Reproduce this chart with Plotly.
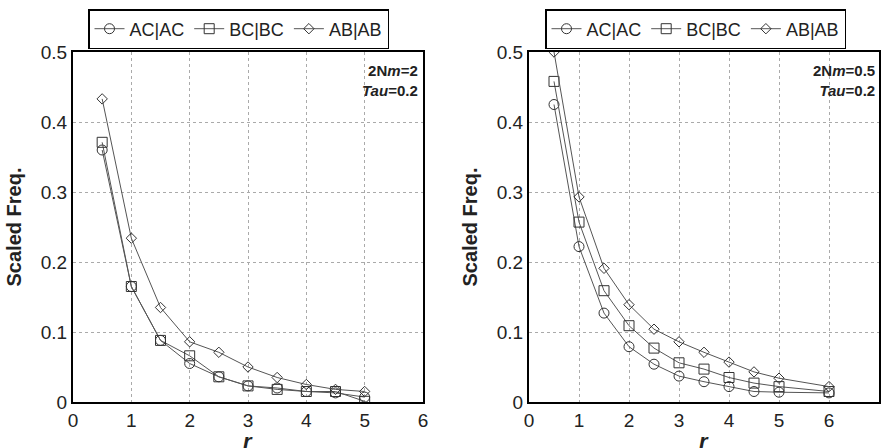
import plotly.graph_objects as go

r_left = [0.5, 1, 1.5, 2, 2.5, 3, 3.5, 4, 4.5, 5]
ac_left = [0.360, 0.165, 0.088, 0.055, 0.036, 0.023, 0.020, 0.015, 0.013, 0.007]
bc_left = [0.371, 0.165, 0.088, 0.066, 0.036, 0.023, 0.018, 0.015, 0.015, 0.001]
ab_left = [0.433, 0.234, 0.135, 0.086, 0.071, 0.050, 0.035, 0.025, 0.018, 0.015]

r_right = [0.5, 1, 1.5, 2, 2.5, 3, 3.5, 4, 4.5, 5, 6]
ac_right = [0.425, 0.222, 0.127, 0.079, 0.054, 0.037, 0.029, 0.022, 0.015, 0.014, 0.013]
bc_right = [0.458, 0.257, 0.159, 0.109, 0.077, 0.056, 0.047, 0.035, 0.027, 0.022, 0.015]
ab_right = [0.500, 0.293, 0.191, 0.139, 0.104, 0.086, 0.071, 0.057, 0.043, 0.034, 0.022]

series_names = ["AC|AC", "BC|BC", "AB|AB"]
symbols = ["circle-open", "square-open", "diamond-open"]
sizes = [10, 10, 8]

fig = go.Figure()
LC = "#555555"
for i, (name, ys) in enumerate(zip(series_names, [ac_left, bc_left, ab_left])):
    fig.add_trace(go.Scatter(x=r_left, y=ys, name=name, mode="lines+markers",
                             line=dict(color=LC, width=1),
                             marker=dict(symbol=symbols[i], size=sizes[i], color="#333",
                                         line=dict(width=1, color="#333")),
                             xaxis="x", yaxis="y", legend="legend"))
for i, (name, ys) in enumerate(zip(series_names, [ac_right, bc_right, ab_right])):
    fig.add_trace(go.Scatter(x=r_right, y=ys, name=name, mode="lines+markers",
                             line=dict(color=LC, width=1),
                             marker=dict(symbol=symbols[i], size=sizes[i], color="#333",
                                         line=dict(width=1, color="#333")),
                             xaxis="x2", yaxis="y2", legend="legend2"))

W, H = 881, 448
yd = [1 - 402 / H, 1 - 52 / H]
axis_common = dict(showline=True, linecolor="black", linewidth=2, mirror=True,
                   showgrid=True, gridcolor="#aaaaaa", griddash="dot", gridwidth=1,
                   zeroline=False, ticks="", automargin=False,
                   tickfont=dict(family="Arial", size=19, color="#222"))
ytitle = dict(text="<b>Scaled Freq.</b>", font=dict(family="Arial", size=20, color="#222"), standoff=14)
legfont = dict(family="Arial", size=18, color="#222")
xt_font = dict(family="Arial", size=22, color="#222")

fig.update_layout(
    width=W, height=H, margin=dict(l=0, r=0, t=0, b=0, autoexpand=False),
    plot_bgcolor="white", paper_bgcolor="white",
    xaxis=dict(domain=[73 / W, 423 / W], range=[0, 6], dtick=1, anchor="y", **axis_common),
    yaxis=dict(domain=yd, range=[0, 0.5], dtick=0.1, anchor="x", title=ytitle, **axis_common),
    xaxis2=dict(domain=[529 / W, 879 / W], range=[0, 7], dtick=1, anchor="y2", **axis_common),
    yaxis2=dict(domain=yd, range=[0, 0.5], dtick=0.1, anchor="x2", title=ytitle, **axis_common),
    legend=dict(orientation="h", x=88 / W, y=1 - 9 / H, xanchor="left", yanchor="top",
                bordercolor="black", borderwidth=1.5, font=legfont,
                itemwidth=30, tracegroupgap=0),
    legend2=dict(orientation="h", x=545 / W, y=1 - 9 / H, xanchor="left", yanchor="top",
                 bordercolor="black", borderwidth=1.5, font=legfont,
                 itemwidth=30, tracegroupgap=0),
    annotations=[
        dict(text="<b>2N<i>m</i>=2</b><br><b><i>Tau</i>=0.2</b>", xref="x", yref="y", x=5.95, y=0.488,
             xanchor="right", yanchor="top", showarrow=False, align="right",
             font=dict(family="Arial", size=15, color="#222")),
        dict(text="<b>2N<i>m</i>=0.5</b><br><b><i>Tau</i>=0.2</b>", xref="x2", yref="y2", x=6.95, y=0.488,
             xanchor="right", yanchor="top", showarrow=False, align="right",
             font=dict(family="Arial", size=15, color="#222")),
        dict(text="<b><i>r</i></b>", xref="x domain", yref="paper", x=0.5, y=1 - 427 / H,
             xanchor="center", yanchor="top", showarrow=False, font=xt_font),
        dict(text="<b><i>r</i></b>", xref="x2 domain", yref="paper", x=0.5, y=1 - 427 / H,
             xanchor="center", yanchor="top", showarrow=False, font=xt_font),
    ],
)

fig.write_html("out.html", config={"displayModeBar": False},
               post_script="document.body.style.margin='0';document.body.style.padding='0';")
